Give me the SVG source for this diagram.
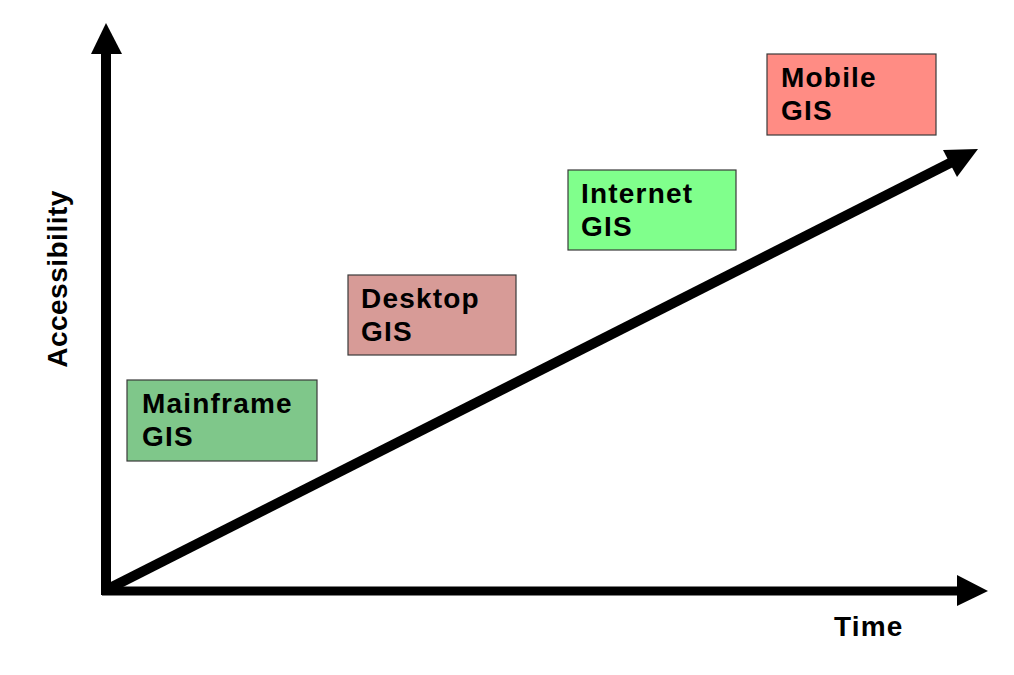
<svg xmlns="http://www.w3.org/2000/svg" width="1014" height="675" viewBox="0 0 1014 675">
  <style>
    .lbl { font-family: "Liberation Sans", Arial, sans-serif; font-weight: 700; font-size: 28px; fill: #000; letter-spacing: 1.2px; }
    .box { stroke: #3a3a3a; stroke-width: 1.2; }
    .axis { stroke: #000; fill: none; }
  </style>
  <rect width="1014" height="675" fill="#fff"/>
  <g id="connectors">
    <line class="axis" x1="106" y1="595" x2="106" y2="52" stroke-width="10"/>
    <polygon points="106,23 91,54 122,54" fill="#000"/>
    <line class="axis" x1="102" y1="591" x2="959" y2="591" stroke-width="9"/>
    <polygon points="988,591 957,575 957,606" fill="#000"/>
    <line class="axis" x1="108" y1="589" x2="952" y2="162" stroke-width="10"/>
    <polygon points="978,149 943,150 957,177" fill="#000"/>
  </g>
  <g id="axis-y-label">
    <text class="lbl" transform="translate(67,279) rotate(-90)" text-anchor="middle" style="letter-spacing:0.5px">Accessibility</text>
  </g>
  <g id="axis-x-label">
    <text class="lbl" x="834" y="636">Time</text>
  </g>
  <g id="mainframe">
    <rect class="box" x="127" y="380" width="190" height="81" fill="#7FC78A"/>
    <text class="lbl" x="142" y="413">Mainframe</text>
    <text class="lbl" x="142" y="446">GIS</text>
  </g>
  <g id="desktop">
    <rect class="box" x="348" y="275" width="168" height="80" fill="#D79B97"/>
    <text class="lbl" x="361" y="308">Desktop</text>
    <text class="lbl" x="361" y="341">GIS</text>
  </g>
  <g id="internet">
    <rect class="box" x="568" y="170" width="168" height="80" fill="#80FF8C"/>
    <text class="lbl" x="581" y="203">Internet</text>
    <text class="lbl" x="581" y="236">GIS</text>
  </g>
  <g id="mobile">
    <rect class="box" x="767" y="54" width="169" height="81" fill="#FF8C84"/>
    <text class="lbl" x="781" y="87">Mobile</text>
    <text class="lbl" x="781" y="120">GIS</text>
  </g>
</svg>
